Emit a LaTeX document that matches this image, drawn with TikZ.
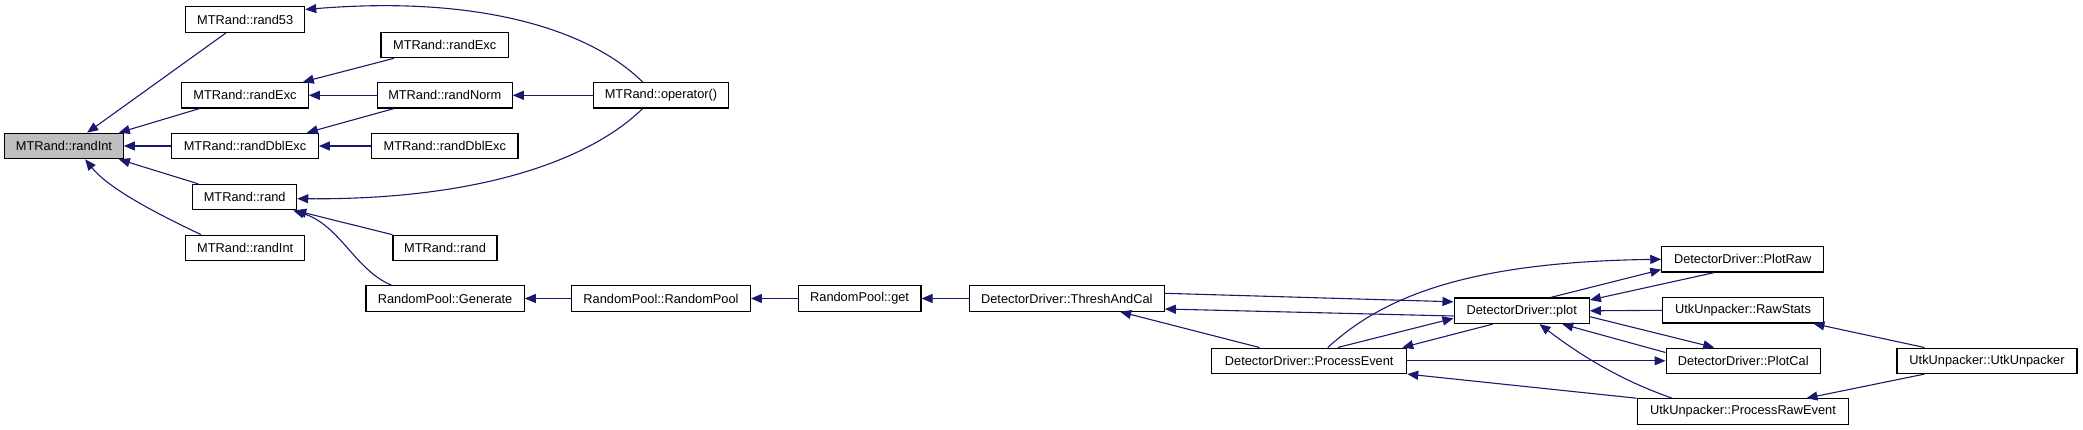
\documentclass[tikz,border=0pt]{standalone}
\usepackage{fontspec}
\setmainfont{Liberation Sans}
\usetikzlibrary{arrows.meta,calc}
\definecolor{edgeblue}{HTML}{191970}
\definecolor{curfill}{HTML}{BFBFBF}
\begin{document}
\begin{tikzpicture}[x=1pt,y=-1pt,
  box/.style={draw=black,line width=1.1pt,fill=white,inner sep=0pt,minimum height=25.5pt,
    font=\fontsize{12.8}{15}\selectfont},
  cur/.style={box,fill=curfill},
  edge/.style={draw=edgeblue,line width=1.1pt,-{Triangle[length=11pt,width=9pt]}}]
\useasboundingbox (0,0) rectangle (2083,430);
% nodes
\node[cur,minimum width=118.6pt] (ri) at (64,146) {MTRand::randInt};
\node[box,minimum width=119pt] (r53) at (245.2,19.5) {MTRand::rand53};
\node[box,minimum width=126.6pt] (rex1) at (245,95.3) {MTRand::randExc};
\node[box,minimum width=146.6pt] (rdx1) at (245,146) {MTRand::randDblExc};
\node[box,minimum width=104pt] (rd1) at (244.7,197.2) {MTRand::rand};
\node[box,minimum width=119pt] (ri1) at (245.2,248) {MTRand::randInt};
\node[box,minimum width=127.4pt] (rex2) at (444.7,45) {MTRand::randExc};
\node[box,minimum width=134.8pt] (rnorm) at (444.8,95.3) {MTRand::randNorm};
\node[box,minimum width=146.4pt] (rdx2) at (444.8,146) {MTRand::randDblExc};
\node[box,minimum width=104pt] (rd2) at (445,248) {MTRand::rand};
\node[box,minimum width=158.2pt] (gen) at (445.1,298.5) {RandomPool::Generate};
\node[box,minimum width=135pt] (op) at (661,95.3) {MTRand::operator()};
\node[box,minimum width=178.8pt] (rpool) at (661,298.5) {RandomPool::RandomPool};
\node[box,minimum width=122.8pt] (get) at (859.6,298.5) {RandomPool::get};
\node[box,minimum width=195pt] (thr) at (1066.8,298.5) {DetectorDriver::ThreshAndCal};
\node[box,minimum width=195pt] (pev) at (1309.2,360.8) {DetectorDriver::ProcessEvent};
\node[box,minimum width=135.3pt] (plot) at (1521.7,310.8) {DetectorDriver::plot};
\node[box,minimum width=161.8pt] (praw) at (1742.7,259.3) {DetectorDriver::PlotRaw};
\node[box,minimum width=161.3pt] (rstat) at (1743,310.3) {UtkUnpacker::RawStats};
\node[box,minimum width=154.3pt] (pcal) at (1743.2,360.8) {DetectorDriver::PlotCal};
\node[box,minimum width=211.8pt] (prev) at (1743,411.5) {UtkUnpacker::ProcessRawEvent};
\node[box,minimum width=180pt] (utk) at (1987,360.8) {UtkUnpacker::UtkUnpacker};
% edges
\draw[edge] ($(r53.south west)+(41,0)$) -- ($(ri.north west)+(83,0)$);
\draw[edge] ($(rex1.south west)+(18.3,0)$) -- ($(ri.north east)+(-5,0)$);
\draw[edge] (rdx1.west) -- (ri.east);
\draw[edge] ($(rd1.north west)+(6.3,0)$) -- ($(ri.south east)+(-5,0)$);
\draw[edge] ($(ri1.north west)+(16,0)$) .. controls (160,215) and (110,190) .. ($(ri.south west)+(81,0)$);
\draw[edge] ($(op.north west)+(49.7,0)$) .. controls (590,30) and (480,-5) .. ($(r53.north east)+(0,3.3)$);
\draw[edge] ($(rex2.south west)+(13.6,0)$) -- ($(rex1.north east)+(-6,0)$);
\draw[edge] (rnorm.west) -- (rex1.east);
\draw[edge] ($(rnorm.south west)+(17,0)$) -- ($(rdx1.north east)+(-12,0)$);
\draw[edge] (rdx2.west) -- (rdx1.east);
\draw[edge] (op.west) -- (rnorm.east);
\draw[edge] ($(op.south west)+(49.7,0)$) .. controls (590,160) and (480,200) .. ($(rd1.east)+(0,1.5)$);
\draw[edge] (rd2.north west) -- ($(rd1.south east)+(-2,0)$);
\draw[edge] ($(gen.north west)+(26,0)$) .. controls (355,270) and (340,225) .. ($(rd1.south east)+(-4,0)$);
\draw[edge] (rpool.west) -- (gen.east);
\draw[edge] (get.west) -- (rpool.east);
\draw[edge] (thr.west) -- (get.east);
\draw[edge] ($(thr.east)+(0,-5.2)$) -- ($(plot.west)+(0,-9)$);
\draw[edge] ($(plot.west)+(0,5.2)$) -- ($(thr.east)+(0,10.5)$);
\draw[edge] ($(pev.north west)+(48.3,0)$) -- ($(thr.south east)+(-44.7,0)$);
\draw[edge] ($(pev.north west)+(116.6,0)$) .. controls (1380,300) and (1460,262) .. (praw.west);
\draw[edge] ($(pev.north west)+(126.6,0)$) -- ($(plot.west)+(0,7.5)$);
\draw[edge] ($(plot.south west)+(39.3,0)$) -- ($(pev.north east)+(-5,0)$);
\draw[edge] (pev.east) -- (pcal.west);
\draw[edge] (prev.north west) -- (pev.south east);
\draw[edge] ($(prev.north west)+(35.6,0)$) .. controls (1620,380) and (1580,355) .. ($(plot.south west)+(86,0)$);
\draw[edge] ($(plot.north west)+(97,0)$) -- ($(praw.south west)+(0,-3)$);
\draw[edge] ($(praw.south west)+(53,0)$) -- ($(plot.east)+(0,-10.8)$);
\draw[edge] (rstat.west) -- (plot.east);
\draw[edge] ($(plot.east)+(0,5.9)$) -- ($(pcal.north west)+(48.7,0)$);
\draw[edge] ($(pcal.west)+(0,-8.3)$) -- ($(plot.south west)+(108.7,0)$);
\draw[edge] ($(utk.north west)+(28,0)$) -- ($(rstat.south east)+(-10.8,0)$);
\draw[edge] ($(utk.south west)+(28,0)$) -- ($(prev.north east)+(-43,0)$);
\end{tikzpicture}
\end{document}
